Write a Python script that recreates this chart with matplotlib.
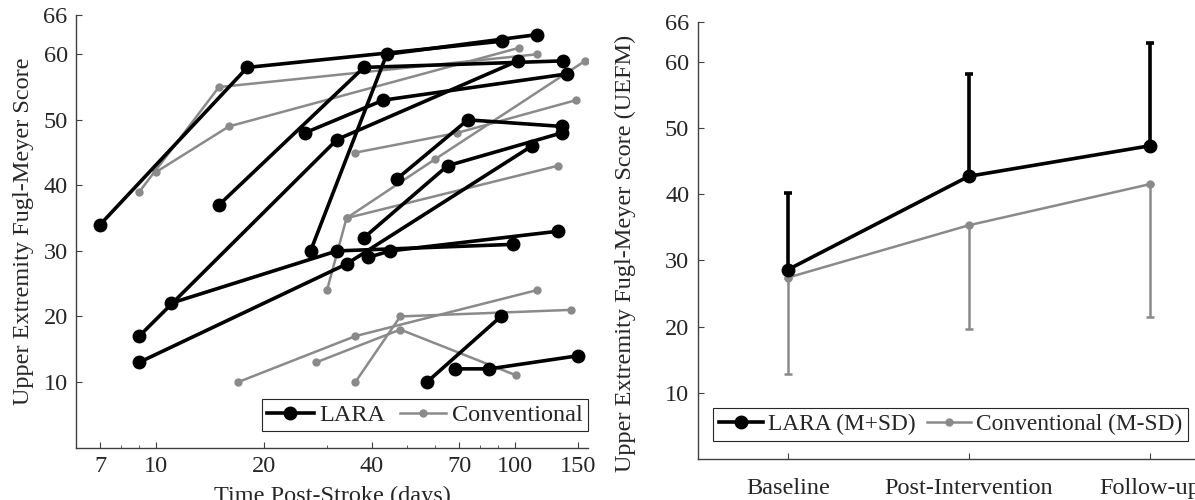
import matplotlib.pyplot as plt
from matplotlib.lines import Line2D
from matplotlib.ticker import FixedLocator, NullFormatter

plt.rcParams['font.family'] = ['Liberation Serif', 'DejaVu Serif']
plt.rcParams['text.color'] = '#262626'
plt.rcParams['axes.labelcolor'] = '#262626'

# individual patients: days post-stroke / UEFM at baseline, post, follow-up
lara_days = [[7, 18, 92], [27, 44, 115], [15, 38, 136.5], [9, 32, 102],
             [26, 43, 139.5], [47, 74, 135], [11, 32, 99], [9, 34, 111.5],
             [38, 65, 135], [39, 45, 132], [68, 85, 150], [57, 91.5]]
lara_fm = [[34, 58, 62], [30, 60, 63], [37, 58, 59], [17, 47, 59],
           [48, 53, 57], [41, 50, 49], [22, 30, 31], [13, 28, 46],
           [32, 43, 48], [29, 30, 33], [12, 12, 14], [10, 20]]

conv_days = [[9, 15, 115], [10, 16, 103], [30, 34, 132], [34, 60, 157],
             [36, 69, 148], [17, 36, 115], [28, 48, 101], [36, 48, 143]]
conv_fm = [[39, 55, 60], [42, 49, 61], [24, 35, 43], [35, 44, 59],
           [45, 48, 53], [10, 17, 24], [13, 18, 11], [10, 20, 21]]

# group means and SD
stages = ['Baseline', 'Post-Intervention', 'Follow-up']
lara_mean = [28.6, 42.7, 47.3]
lara_sd = [11.5, 15.4, 15.6]
conv_mean = [27.4, 35.3, 41.5]
conv_sd = [14.6, 15.6, 20.0]

gray = '#8a8a8a'
axcol = '#404040'
fs = 17.5

fig = plt.figure(figsize=(11.95, 5.0), dpi=100)
ax1 = fig.add_axes([0.0636, 0.105, 0.4285, 0.865])
ax2 = fig.add_axes([0.5837, 0.082, 0.454, 0.874])

h_lara = Line2D([], [], color='k', lw=2.6, marker='o', ms=9)
h_conv = Line2D([], [], color=gray, lw=1.8, marker='o', ms=5)

# ---- left: individual trajectories
for i in range(len(conv_days)):
    ax1.plot(conv_days[i], conv_fm[i], '-o', color=gray, lw=1.8, ms=5, zorder=2)
for i in range(len(lara_days)):
    ax1.plot(lara_days[i], lara_fm[i], '-o', color='k', lw=2.6, ms=9, zorder=3)

ax1.set_xscale('log')
ax1.set_xlim(6, 160)
ax1.set_ylim(0, 66)
ax1.xaxis.set_major_locator(FixedLocator([7, 10, 20, 40, 70, 100, 150]))
ax1.xaxis.set_minor_locator(FixedLocator([8, 9, 30, 50, 60, 80, 90]))
ax1.xaxis.set_major_formatter(plt.FuncFormatter(lambda v, p: '%d' % v))
ax1.xaxis.set_minor_formatter(NullFormatter())
ax1.set_yticks([10, 20, 30, 40, 50, 60, 66])
ax1.set_xlabel('Time Post-Stroke (days)', fontsize=fs)
ax1.set_ylabel('Upper Extremity Fugl-Meyer Score', fontsize=fs)
ax1.xaxis.set_label_coords(0.5, -0.088)
ax1.yaxis.set_label_coords(-0.082, 0.5)
leg1 = ax1.legend([h_lara, h_conv], ['LARA', 'Conventional'], ncol=2,
                  loc='lower right', bbox_to_anchor=(1.0, 0.038),
                  borderaxespad=0, fontsize=fs, fancybox=False, framealpha=1,
                  handlelength=1.9, columnspacing=0.6, handletextpad=0.25,
                  borderpad=0.2)
leg1.get_frame().set_edgecolor('#262626')
leg1.get_frame().set_linewidth(0.8)
ax1.tick_params(axis='x', which='major', pad=6)

# ---- right: means with one-sided SD
xs = [1, 2, 3]
ax2.errorbar(xs, conv_mean, yerr=[conv_sd, [0, 0, 0]], fmt='-o', color=gray,
             lw=1.8, ms=5, elinewidth=1.8, capsize=3, capthick=1.8, zorder=2)
ax2.errorbar(xs, lara_mean, yerr=[[0, 0, 0], lara_sd], fmt='-o', color='k',
             lw=2.6, ms=9, elinewidth=2.6, capsize=3, capthick=2.6, zorder=3)
ax2.set_xlim(0.5, 3.5)
ax2.set_ylim(0, 66)
ax2.set_xticks(xs)
ax2.set_xticklabels(stages)
ax2.set_yticks([10, 20, 30, 40, 50, 60, 66])
ax2.set_ylabel('Upper Extremity Fugl-Meyer Score (UEFM)', fontsize=fs)
ax2.yaxis.set_label_coords(-0.113, 0.47)
leg2 = ax2.legend([h_lara, h_conv], ['LARA (M+SD)', 'Conventional (M-SD)'],
                  ncol=2, loc='lower left', bbox_to_anchor=(0.0286, 0.041),
                  borderaxespad=0, fontsize=16.8, fancybox=False, framealpha=1,
                  handlelength=1.9, columnspacing=0.5, handletextpad=0.2,
                  borderpad=0.25)
leg2.get_frame().set_edgecolor('#262626')
leg2.get_frame().set_linewidth(0.8)
ax2.tick_params(axis='x', which='major', pad=14)

for ax in (ax1, ax2):
    for s in ('top', 'right'):
        ax.spines[s].set_visible(False)
    for s in ('left', 'bottom'):
        ax.spines[s].set_color(axcol)
        ax.spines[s].set_linewidth(1.0)
    ax.tick_params(which='both', direction='in', colors=axcol,
                   labelcolor='#262626', labelsize=fs)
    ax.tick_params(which='major', length=4)
    ax.tick_params(which='minor', length=2.5)
    ax.tick_params(axis='y', pad=6)

fig.savefig('out.png', dpi=100)
